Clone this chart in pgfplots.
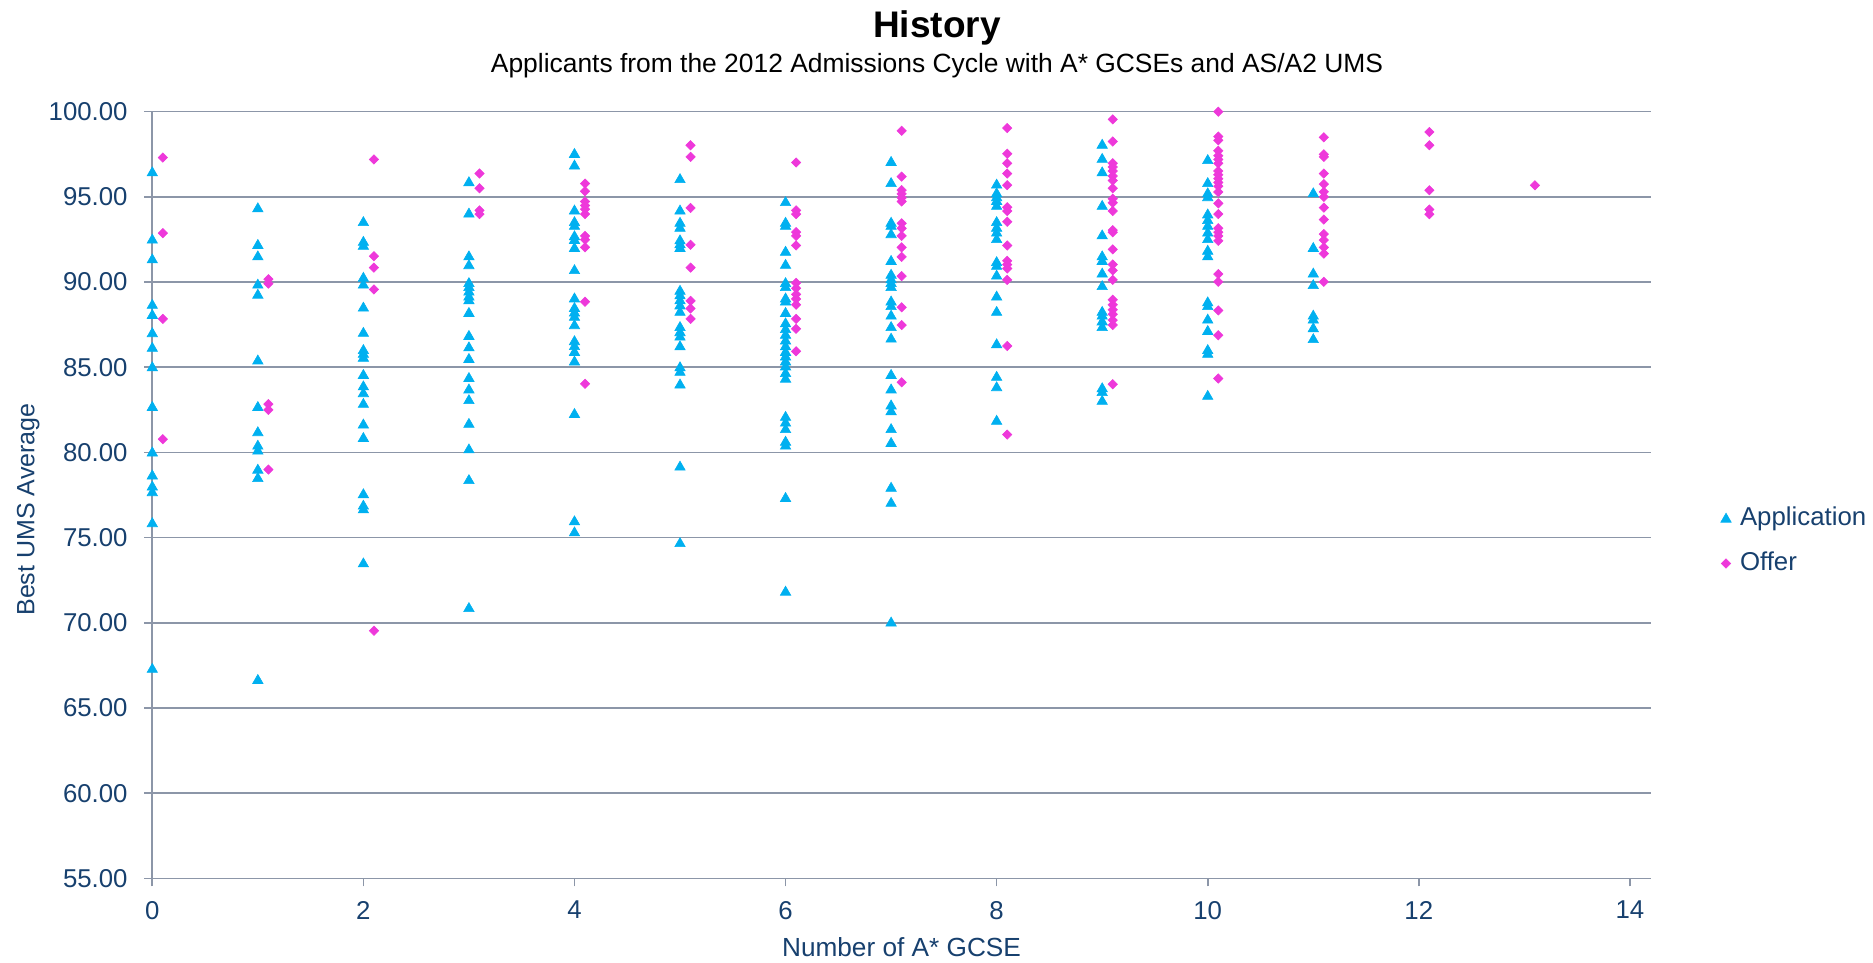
\documentclass[border=0pt]{standalone}
\usepackage{pgfplots}
\pgfplotsset{compat=1.18}
\usepackage{fontspec}
\setmainfont{Liberation Sans}
\definecolor{appblue}{RGB}{0,176,240}
\definecolor{offmag}{RGB}{238,56,218}
\definecolor{txtblue}{RGB}{23,64,110}
\definecolor{gridc}{RGB}{140,150,168}
\newcommand{\lbl}{\fontsize{12.9}{15}\selectfont}
\begin{document}
\begin{tikzpicture}
\useasboundingbox (-76.15pt,-42.25pt) rectangle (860.35pt,439.25pt);
\begin{axis}[
  at={(0pt,0pt)}, anchor=south west,
  scale only axis, width=749.35pt, height=383.4pt,
  xmin=0, xmax=14.2, ymin=55, ymax=100,
  xtick={0,2,4,6,8,10,12,14}, ytick={55,60,65,70,75,80,85,90,95,100},
  xticklabels={0,2,4,6,8,10,12,14},
  yticklabels={55.00,60.00,65.00,70.00,75.00,80.00,85.00,90.00,95.00,100.00},
  axis lines*=left,
  axis line style={gridc, line width=0.8pt},
  ymajorgrids, grid style={gridc, line width=0.8pt},
  tick style={gridc, line width=0.8pt},
  tick align=outside, major tick length=4pt,
  clip=false,
  ticklabel style={font=\lbl, text=txtblue},
  yticklabel style={anchor=east, inner sep=0pt, xshift=-8.15pt},
  xticklabel style={anchor=north, inner sep=0pt, yshift=-7.1pt},
  legend style={draw=none, fill=none, at={(1.04471,0.48487)}, anchor=north west,
    font=\lbl, text=txtblue, inner sep=0pt, outer sep=0pt,
    nodes={inner sep=0pt, text height=9.5pt, text depth=3pt},
    row sep=9.65pt,
    /tikz/every odd column/.append style={column sep=3pt}},
  legend cell align=left,
  legend image code/.code={\path[draw=none,fill=none] (-4pt,-3pt) rectangle (4pt,3pt); \draw[#1] plot coordinates {(0pt,0pt)};},
]
\addplot[only marks, mark=triangle*, mark size=3pt, draw=appblue, fill=appblue, line width=0.3pt] table[row sep=\\] {
x y\\
0 96.41\\ 0 92.46\\ 0 91.30\\ 0 88.63\\ 0 88.04\\ 0 86.97\\ 0 86.11\\ 0 84.97\\ 0 82.64\\ 0 79.97\\ 0 78.62\\ 0 77.97\\ 0 77.64\\ 0 75.82\\ 0 67.27\\
1 94.30\\ 1 92.15\\ 1 91.48\\ 1 89.82\\ 1 89.23\\ 1 85.37\\ 1 82.64\\ 1 81.16\\ 1 80.37\\ 1 80.08\\ 1 78.96\\ 1 78.47\\ 1 66.62\\
2 93.49\\ 2 92.33\\ 2 92.10\\ 2 90.22\\ 2 89.82\\ 2 88.47\\ 2 86.99\\ 2 85.98\\ 2 85.76\\ 2 85.53\\ 2 84.52\\ 2 83.85\\ 2 83.45\\ 2 82.82\\ 2 81.61\\ 2 80.82\\ 2 77.52\\ 2 76.85\\ 2 76.63\\ 2 73.46\\
3 95.83\\ 3 93.99\\ 3 91.48\\ 3 90.96\\ 3 89.91\\ 3 89.68\\ 3 89.41\\ 3 89.12\\ 3 88.90\\ 3 88.16\\ 3 86.81\\ 3 86.14\\ 3 85.46\\ 3 84.34\\ 3 83.67\\ 3 83.04\\ 3 81.65\\ 3 80.15\\ 3 78.35\\ 3 70.84\\
4 97.49\\ 4 96.81\\ 4 94.17\\ 4 93.49\\ 4 93.27\\ 4 92.66\\ 4 92.44\\ 4 91.97\\ 4 90.67\\ 4 89.01\\ 4 88.45\\ 4 88.18\\ 4 87.93\\ 4 87.44\\ 4 86.50\\ 4 86.21\\ 4 85.87\\ 4 85.31\\ 4 82.23\\ 4 75.93\\ 4 75.28\\
5 96.01\\ 5 94.17\\ 5 93.45\\ 5 93.16\\ 5 92.42\\ 5 92.19\\ 5 91.97\\ 5 89.46\\ 5 89.19\\ 5 88.90\\ 5 88.60\\ 5 88.22\\ 5 87.33\\ 5 87.03\\ 5 86.77\\ 5 86.20\\ 5 84.97\\ 5 84.70\\ 5 83.96\\ 5 79.14\\ 5 74.65\\
6 94.66\\ 6 93.45\\ 6 93.27\\ 6 91.75\\ 6 90.98\\ 6 89.91\\ 6 89.68\\ 6 89.01\\ 6 88.83\\ 6 88.16\\ 6 87.55\\ 6 87.21\\ 6 86.88\\ 6 86.54\\ 6 86.20\\ 6 85.87\\ 6 85.60\\ 6 85.31\\ 6 85.02\\ 6 84.63\\ 6 84.30\\ 6 82.06\\ 6 81.72\\ 6 81.34\\ 6 80.60\\ 6 80.37\\ 6 77.30\\ 6 71.80\\
7 97.02\\ 7 95.78\\ 7 93.45\\ 7 93.27\\ 7 92.78\\ 7 91.21\\ 7 90.40\\ 7 90.13\\ 7 89.91\\ 7 89.68\\ 7 88.83\\ 7 88.56\\ 7 88.00\\ 7 87.33\\ 7 86.65\\ 7 84.52\\ 7 83.67\\ 7 82.73\\ 7 82.39\\ 7 81.34\\ 7 80.53\\ 7 77.90\\ 7 77.01\\ 7 69.99\\
8 95.69\\ 8 95.18\\ 8 94.95\\ 8 94.73\\ 8 94.44\\ 8 93.49\\ 8 93.16\\ 8 92.87\\ 8 92.49\\ 8 91.14\\ 8 90.92\\ 8 90.35\\ 8 89.12\\ 8 88.22\\ 8 86.32\\ 8 84.41\\ 8 83.80\\ 8 81.83\\
9 98.03\\ 9 97.20\\ 9 96.41\\ 9 94.44\\ 9 92.71\\ 9 91.48\\ 9 91.21\\ 9 90.47\\ 9 89.73\\ 9 88.22\\ 9 88.00\\ 9 87.66\\ 9 87.33\\ 9 83.74\\ 9 83.51\\ 9 83.00\\
10 97.13\\ 10 95.78\\ 10 95.18\\ 10 94.95\\ 10 93.94\\ 10 93.61\\ 10 93.27\\ 10 92.87\\ 10 92.49\\ 10 91.81\\ 10 91.48\\ 10 88.78\\ 10 88.56\\ 10 87.77\\ 10 87.10\\ 10 85.98\\ 10 85.76\\ 10 83.29\\
11 95.18\\ 11 91.97\\ 11 90.47\\ 11 89.79\\ 11 88.00\\ 11 87.77\\ 11 87.26\\ 11 86.62\\
};
\addlegendentry{Application}
\addplot[only marks, mark=square*, mark size=1.65pt, mark options={rotate=45}, draw=offmag, fill=offmag, line width=0.3pt] table[row sep=\\] {
x y\\
0.1 97.31\\ 0.1 92.87\\ 0.1 87.84\\ 0.1 80.78\\
1.1 90.17\\ 1.1 89.91\\ 1.1 82.84\\ 1.1 82.50\\ 1.1 79.00\\
2.1 97.20\\ 2.1 91.52\\ 2.1 90.85\\ 2.1 89.57\\ 2.1 69.54\\
3.1 96.37\\ 3.1 95.51\\ 3.1 94.21\\ 3.1 93.99\\
4.1 95.78\\ 4.1 95.33\\ 4.1 94.73\\ 4.1 94.50\\ 4.1 94.28\\ 4.1 93.99\\ 4.1 92.71\\ 4.1 92.49\\ 4.1 92.04\\ 4.1 88.85\\ 4.1 84.03\\
5.1 98.03\\ 5.1 97.35\\ 5.1 94.35\\ 5.1 92.19\\ 5.1 90.85\\ 5.1 88.90\\ 5.1 88.45\\ 5.1 87.84\\
6.1 97.02\\ 6.1 94.21\\ 6.1 93.99\\ 6.1 92.93\\ 6.1 92.71\\ 6.1 92.15\\ 6.1 89.95\\ 6.1 89.64\\ 6.1 89.28\\ 6.1 89.01\\ 6.1 88.67\\ 6.1 87.84\\ 6.1 87.26\\ 6.1 85.94\\
7.1 98.88\\ 7.1 96.19\\ 7.1 95.40\\ 7.1 95.18\\ 7.1 94.95\\ 7.1 94.73\\ 7.1 93.45\\ 7.1 93.16\\ 7.1 92.71\\ 7.1 92.04\\ 7.1 91.48\\ 7.1 90.35\\ 7.1 88.52\\ 7.1 87.48\\ 7.1 84.12\\
8.1 99.04\\ 8.1 97.53\\ 8.1 96.97\\ 8.1 96.37\\ 8.1 95.69\\ 8.1 94.39\\ 8.1 94.17\\ 8.1 93.54\\ 8.1 92.15\\ 8.1 91.25\\ 8.1 91.03\\ 8.1 90.80\\ 8.1 90.13\\ 8.1 86.25\\ 8.1 81.05\\
9.1 99.55\\ 9.1 98.25\\ 9.1 96.97\\ 9.1 96.75\\ 9.1 96.52\\ 9.1 96.23\\ 9.1 95.96\\ 9.1 95.51\\ 9.1 94.89\\ 9.1 94.66\\ 9.1 94.17\\ 9.1 93.05\\ 9.1 92.93\\ 9.1 91.92\\ 9.1 91.03\\ 9.1 90.69\\ 9.1 90.13\\ 9.1 88.96\\ 9.1 88.67\\ 9.1 88.38\\ 9.1 88.11\\ 9.1 87.77\\ 9.1 87.48\\ 9.1 84.01\\
10.1 100.00\\ 10.1 98.54\\ 10.1 98.32\\ 10.1 97.71\\ 10.1 97.42\\ 10.1 97.20\\ 10.1 96.97\\ 10.1 96.52\\ 10.1 96.30\\ 10.1 96.07\\ 10.1 95.85\\ 10.1 95.63\\ 10.1 95.29\\ 10.1 94.62\\ 10.1 93.99\\ 10.1 93.16\\ 10.1 92.93\\ 10.1 92.71\\ 10.1 92.42\\ 10.1 90.47\\ 10.1 90.02\\ 10.1 88.34\\ 10.1 86.88\\ 10.1 84.34\\
11.1 98.50\\ 11.1 97.50\\ 11.1 97.35\\ 11.1 96.37\\ 11.1 95.75\\ 11.1 95.30\\ 11.1 95.00\\ 11.1 94.37\\ 11.1 93.67\\ 11.1 92.82\\ 11.1 92.47\\ 11.1 92.04\\ 11.1 91.67\\ 11.1 90.02\\
12.1 98.81\\ 12.1 98.03\\ 12.1 95.39\\ 12.1 94.26\\ 12.1 93.98\\
13.1 95.68\\
};
\addlegendentry{Offer}
\end{axis}
\node[anchor=base, font=\fontsize{18.5}{22}\selectfont\bfseries, text=black] at (392.35pt,420.5pt) {History};
\node[anchor=base, font=\fontsize{13.2}{16}\selectfont, text=black] at (392.35pt,403pt) {Applicants from the 2012 Admissions Cycle with A* GCSEs and AS/A2 UMS};
\node[anchor=base, font=\fontsize{13.1}{15}\selectfont, text=txtblue, inner sep=0pt] at (374.6pt,-39.1pt) {Number of A* GCSE};
\node[anchor=base, rotate=90, font=\fontsize{12.5}{15}\selectfont, text=txtblue, inner sep=0pt] at (-59pt,184.45pt) {Best UMS Average};
\end{tikzpicture}
\end{document}
